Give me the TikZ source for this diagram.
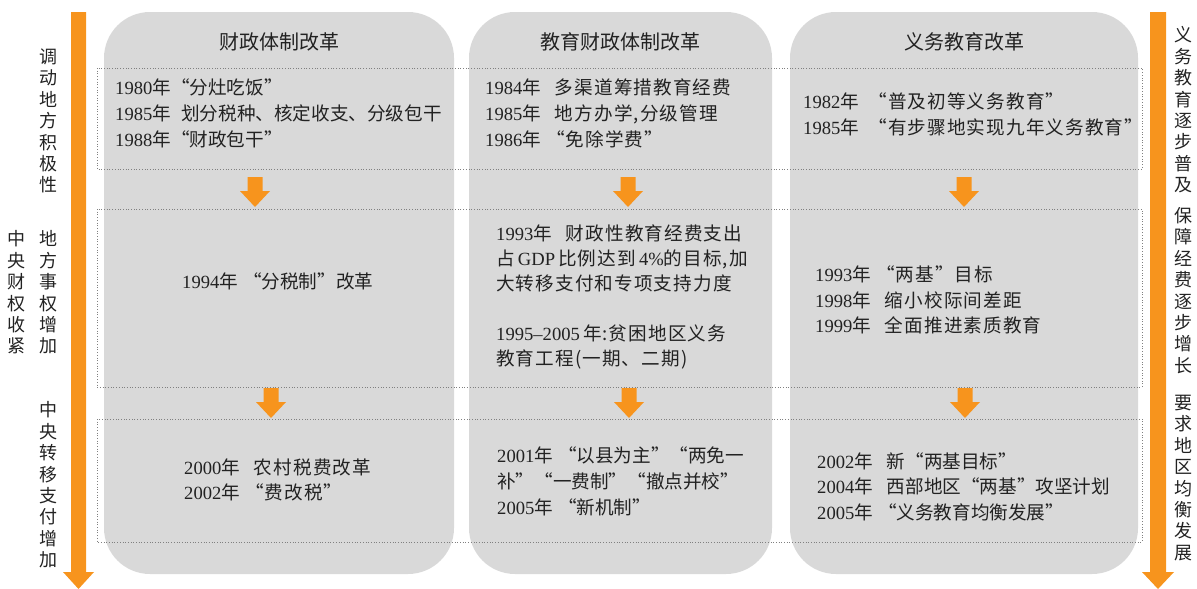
\documentclass[tikz,border=0pt]{standalone}
\usepackage{fontspec}
\setmainfont{Liberation Serif}
\newfontfamily\cjk{Noto Sans CJK SC}
\newfontfamily\cjkwide[LetterSpace=6]{Noto Sans CJK SC}
\definecolor{orng}{HTML}{F7941D}
\definecolor{colgrey}{HTML}{D9D9D9}
\definecolor{txt}{HTML}{222222}
\definecolor{dotc}{HTML}{808080}
\newcommand\yr[1]{{\rmfamily #1}}
\newcommand\gp{\hspace{0.75em}}
\newcommand\qg{\hspace{0.27em}}
\tikzset{
  col/.style={fill=colgrey, rounded corners=46pt},
  hdr/.style={font=\cjk\fontsize{20}{24}\selectfont, text=txt, inner sep=0},
  body/.style={font=\cjk\fontsize{18.6}{26}\selectfont, text=txt, inner sep=0, align=left, anchor=west},
  widebody/.style={body, font=\cjkwide\fontsize{18.6}{25.5}\selectfont},
  side/.style={font=\cjk\fontsize{18}{21.4}\selectfont, text=txt, inner sep=0, align=center},
  dotline/.style={dotc, line width=0.9pt, dash pattern=on 0.9pt off 1.8pt},
  downarr/.pic={\fill[orng] (-7.5,0) -- (7.5,0) -- (7.5,14) -- (15,14) -- (0,30) -- (-15,14) -- (-7.5,14) -- cycle;},
}
\begin{document}
\begin{tikzpicture}[x=1pt, y=-1pt]
\useasboundingbox (0,0) rectangle (1197,589);
% columns
\fill[col] (104,12) rectangle (454,574);
\fill[col] (469,12) rectangle (772,574);
\fill[col] (790,12) rectangle (1138,574);
% side arrows
\fill[orng] (71,12) -- (86,12) -- (86,572) -- (94,572) -- (78.5,589) -- (63,572) -- (71,572) -- cycle;
\fill[orng] (1150,12) -- (1166,12) -- (1166,572) -- (1174,572) -- (1158,589) -- (1142,572) -- (1150,572) -- cycle;
% dotted bands
\draw[dotline] (97,68) rectangle (1142,169);
\draw[dotline] (97,209) rectangle (1142,387);
\draw[dotline] (97,419) rectangle (1142,542);
% small arrows
\pic at (255,177) {downarr};
\pic at (628,177) {downarr};
\pic at (964,177) {downarr};
\pic at (271,388) {downarr};
\pic at (629,388) {downarr};
\pic at (965,388) {downarr};
% headers
\node[hdr] (h1) at (279,42) {财政体制改革};
\node[hdr] (h2) at (620.5,42) {教育财政体制改革};
\node[hdr] (h3) at (964,42) {义务教育改革};
% row 1
\node[body] (c1r1) at (115,113.5) {\yr{1980}年“分灶吃饭”\\\yr{1985}年\hspace{0.55em}划分税种、核定收支、分级包干\\\yr{1988}年“财政包干”};
\node[widebody, font=\cjkwide\fontsize{18.6}{26}\selectfont] (c2r1) at (485,113.5) {\yr{1984}年\gp 多渠道筹措教育经费\\\yr{1985}年\gp 地方办学,分级管理\\\yr{1986}年\qg“免除学费”};
\node[widebody, font=\cjkwide\fontsize{18.6}{26}\selectfont] (c3r1) at (803,114) {\yr{1982}年\hspace{0.5em}“普及初等义务教育”\\\yr{1985}年\hspace{0.5em}“有步骤地实现九年义务教育”};
% row 2
\node[body] (c1r2) at (182,281) {\yr{1994}年\qg“分税制”改革};
\node[widebody, font=\cjkwide\fontsize{18.6}{25}\selectfont] (c2r2) at (496,296.5) {\yr{1993}年\gp 财政性教育经费支出\\占\,\yr{GDP}\,比例达到\,\yr{4\%}的目标,加\\大转移支付和专项支持力度\\[25pt]\yr{1995–2005}\,年:贫困地区义务\\教育工程(一期、二期)};
\node[widebody] (c3r2) at (815,300) {\yr{1993}年\qg“两基”目标\\\yr{1998}年\gp 缩小校际间差距\\\yr{1999}年\gp 全面推进素质教育};
% row 3
\node[widebody, font=\cjkwide\fontsize{18.6}{25}\selectfont] (c1r3) at (184,479.5) {\yr{2000}年\gp 农村税费改革\\\yr{2002}年\qg“费改税”};
\node[body] (c2r3) at (497,481) {\yr{2001}年\qg“以县为主”“两免一\\补”“一费制”“撤点并校”\\\yr{2005}年\qg“新机制”};
\node[body, font=\cjk\fontsize{18.6}{25.5}\selectfont] (c3r3) at (817,486.5) {\yr{2002}年\gp 新“两基目标”\\\yr{2004}年\gp 西部地区“两基”攻坚计划\\\yr{2005}年\qg“义务教育均衡发展”};
% side labels
\node[side] (l1) at (48,121) {调\\动\\地\\方\\积\\极\\性};
\node[side] (l2) at (48,292.5) {地\\方\\事\\权\\增\\加};
\node[side] (l3) at (17,292.5) {中\\央\\财\\权\\收\\紧};
\node[side] (l4) at (48,485) {中\\央\\转\\移\\支\\付\\增\\加};
\node[side] (r1) at (1183,110) {义\\务\\教\\育\\逐\\步\\普\\及};
\node[side] (r2) at (1183,290.5) {保\\障\\经\\费\\逐\\步\\增\\长};
\node[side] (r3) at (1183,478) {要\\求\\地\\区\\均\\衡\\发\\展};
\end{tikzpicture}
\end{document}
